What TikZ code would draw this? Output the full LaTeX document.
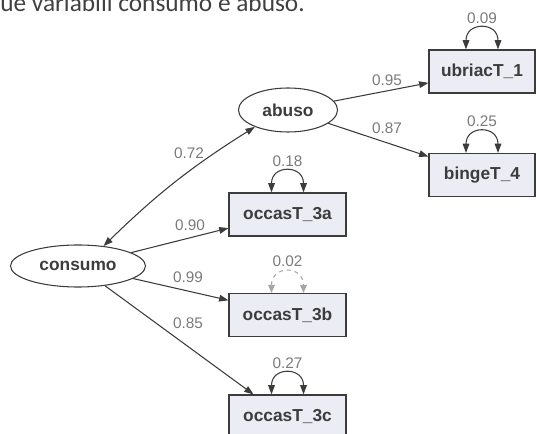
\documentclass[tikz,border=0pt]{standalone}
\usepackage{fontspec}
\setmainfont{Liberation Sans}
\newfontfamily\pagefont{Carlito}
\usepackage{xcolor}
\definecolor{semline}{HTML}{3c3c3c}
\definecolor{semfill}{HTML}{ECECF5}
\definecolor{semcoef}{HTML}{7a7a7a}
\definecolor{semfaint}{HTML}{a6a6a6}
\usetikzlibrary{shapes.geometric, arrows.meta, positioning, calc}

\begin{document}
\begin{tikzpicture}[
  x=0.75pt, y=-0.75pt,
  observed/.style={rectangle, draw=semline, fill=semfill, line width=0.8pt,
    minimum width=79.5pt, minimum height=32.25pt, inner sep=0pt,
    font=\fontsize{13}{15}\selectfont\bfseries, text=semline},
  latent/.style={ellipse, draw=semline, line width=0.8pt, inner sep=0pt,
    font=\fontsize{13}{15}\selectfont\bfseries, text=semline},
  coef/.style={font=\fontsize{11.5}{13}\selectfont, text=semcoef, inner sep=0pt},
  loading/.style={-{Triangle[length=7pt,width=5pt]}, draw=semline, line width=0.8pt},
  covar/.style={{Triangle[length=7pt,width=5pt]}-{Triangle[length=7pt,width=5pt]},
    draw=semline, line width=0.8pt},
  resvar/.style={covar},
  faintvar/.style={{Triangle[length=6pt,width=5pt]}-{Triangle[length=6pt,width=5pt]},
    draw=semfaint, line width=0.8pt, dashed}
]
\useasboundingbox (0,0) rectangle (536,434);

% text of the page above the figure
\node[anchor=base west, inner sep=0pt, font=\pagefont\fontsize{19}{22}\selectfont,
  text=black!75] (caption) at (0,12) {ue variabili consumo e abuso.};

% latent variables
\node[latent, minimum width=74.25pt, minimum height=33pt] (abuso) at (288,110) {abuso};
\node[latent, minimum width=101.25pt, minimum height=31.5pt] (consumo) at (78,266) {consumo};

% indicators
\node[observed] (ubriac) at (482,71.5) {ubriacT\_1};
\node[observed] (binge) at (482,175) {bingeT\_4};
\node[observed, minimum width=87.75pt] (occa) at (287.5,214.5) {occasT\_3a};
\node[observed, minimum width=87.75pt] (occb) at (287.5,315) {occasT\_3b};
\node[observed, minimum width=87.75pt] (occc) at (287.5,416.5) {occasT\_3c};

% loadings
\draw[loading] (abuso) -- (ubriac.192);
\draw[loading] (abuso) -- (binge.161);
\draw[loading] (consumo) -- (occa.193);
\draw[loading] (consumo) -- (occb.166);
\draw[loading] (consumo) -- (occc.147);
\draw[covar] (consumo.38) to[bend left=6] (abuso.207);

\node[coef] (l95) at (387,80) {0.95};
\node[coef] (l87) at (387,128) {0.87};
\node[coef] (l72) at (189,153) {0.72};
\node[coef] (l90) at (190,225) {0.90};
\node[coef] (l99) at (188,277) {0.99};
\node[coef] (l85) at (188,323) {0.85};

% residual variances
\foreach \obs in {ubriac, binge, occa, occc}
  \draw[resvar] ([xshift=-12pt]\obs.north) .. controls +(0,-28) and +(0,-28)
    .. ([xshift=12pt]\obs.north);
\draw[faintvar] ([xshift=-12pt]occb.north) .. controls +(0,-28) and +(0,-28)
  .. ([xshift=12pt]occb.north);

\node[coef, above=19.5pt of ubriac] (r09) {0.09};
\node[coef, above=19.5pt of binge] (r25) {0.25};
\node[coef, above=19.5pt of occa] (r18) {0.18};
\node[coef, above=19.5pt of occb] (r02) {0.02};
\node[coef, above=19.5pt of occc] (r27) {0.27};
\end{tikzpicture}
\end{document}
